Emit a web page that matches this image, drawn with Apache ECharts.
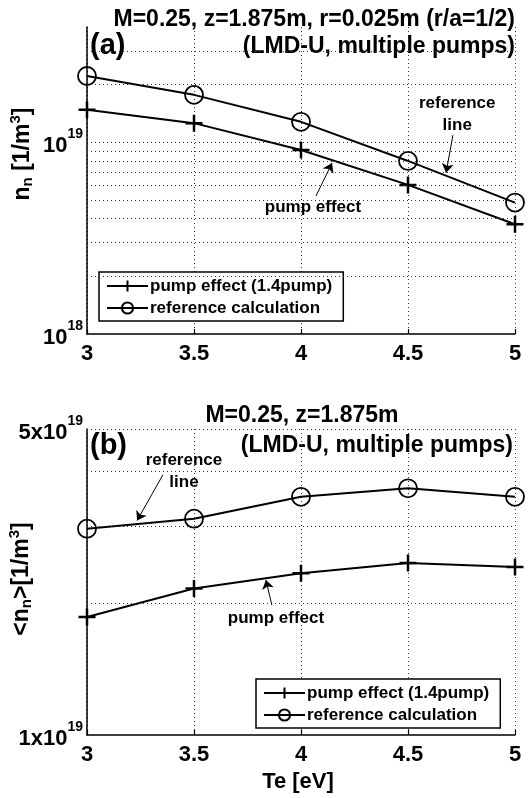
<!DOCTYPE html>
<html>
<head>
<meta charset="utf-8">
<script src="https://cdn.jsdelivr.net/npm/echarts@6/dist/echarts.min.js"></script>
<style>
html,body{margin:0;padding:0;background:#fff;}
#c{width:528px;height:798px;}
</style>
</head>
<body>
<div id="c"></div>
<script>
// ---- data ----
var teValues = [3, 3.5, 4, 4.5, 5];
var topPump = [1.48e19, 1.26e19, 9.13e18, 6.0e18, 3.74e18];
var topRef  = [2.22e19, 1.77e19, 1.28e19, 8.0e18, 4.85e18];
var botPump = [1.86e19, 2.16e19, 2.34e19, 2.47e19, 2.42e19];
var botRef  = [2.96e19, 3.12e19, 3.50e19, 3.66e19, 3.50e19];
var seriesNames = ['pump effect (1.4pump)', 'reference calculation'];
var xTicks = [3, 3.5, 4, 4.5, 5];
var topYRange = [1e18, 4e19];
var botYRange = [1e19, 5e19];
var topGridValues = [2e18, 3e18, 4e18, 5e18, 6e18, 7e18, 8e18, 9e18, 1e19, 2e19, 3e19];
var botGridValues = [2e19, 3e19, 4e19, 5e19];
var topYLabels = {'18': ['10', '18'], '19': ['10', '19']};
var botYLabels = {'1e19': ['1x10', '19'], '5e19': ['5x10', '19']};
// annotations (data coordinates)
var topRefNote = {text: 'reference\nline', at: [4.73, 1.40e19], from: [4.71, 1.09e19], to: [4.678, 6.95e18]};
var topPumpNote = {text: 'pump effect', at: [4.056, 4.61e18], from: [4.07, 5.25e18], to: [4.145, 7.8e18]};
var botRefNote = {text: 'reference\nline', at: [3.453, 4.0e19], from: [3.355, 3.93e19], to: [3.234, 3.09e19]};
var botPumpNote = {text: 'pump effect', at: [3.883, 1.85e19], from: [3.864, 1.98e19], to: [3.836, 2.26e19]};

// ---- styles ----
var FF = '"Liberation Sans", Arial, Helvetica, sans-serif';
var plusPath = 'path://M10,0L10,20M0,10L20,10';
var gridLineStyle = {color: '#333', width: 1, type: [1, 3]};

function pair(a, b) { return a.map(function (v, i) { return [v, b[i]]; }); }

function gridMarkLine(gridVals) {
  return {
    silent: true, animation: false,
    symbol: 'none',
    label: {show: false},
    data: gridVals.map(function (v) {
      return {yAxis: v, symbol: 'none', lineStyle: gridLineStyle};
    })
  };
}
function arrowMarkLine(notes) {
  return {
    silent: true, animation: false,
    symbol: ['none', 'arrow'], symbolSize: 9,
    label: {show: false},
    itemStyle: {color: '#000'},
    lineStyle: {color: '#000', width: 1, type: 'solid'},
    data: notes.map(function (n) {
      return [{coord: n.from, symbol: 'none'}, {coord: n.to, symbol: 'arrow', symbolSize: 9}];
    })
  };
}
function noteMarkPoint(notes) {
  return {
    silent: true, animation: false,
    symbol: 'circle', symbolSize: 0,
    data: notes.map(function (n) {
      return {coord: n.at, value: n.text,
        label: {show: true, position: 'inside', formatter: n.text, color: '#000',
          fontFamily: FF, fontWeight: 'bold', fontSize: 17, lineHeight: 22, align: 'center'}};
    })
  };
}

function pumpSeries(name, x, y, data, notes, gridVals) {
  return {
    name: name, type: 'line', xAxisIndex: x, yAxisIndex: y,
    data: data, symbol: plusPath, symbolSize: 17,
    showAllSymbol: true,
    lineStyle: {color: '#000', width: 2},
    itemStyle: {color: 'rgba(0,0,0,0)', borderColor: '#000', borderWidth: 2.5},
    markLine: gridMarkLine(gridVals),
    markPoint: noteMarkPoint(notes),
    z: 3
  };
}
function refSeries(name, x, y, data, notes) {
  return {
    name: name, type: 'line', xAxisIndex: x, yAxisIndex: y,
    data: data, symbol: 'circle', symbolSize: 18,
    showAllSymbol: true,
    lineStyle: {color: '#000', width: 2},
    itemStyle: {color: 'rgba(0,0,0,0)', borderColor: '#000', borderWidth: 1.8},
    markLine: arrowMarkLine(notes),
    z: 3
  };
}

function xAxis(gridIndex) {
  return {
    type: 'value', gridIndex: gridIndex, min: 3, max: 5, interval: 0.5,
    axisLine: {show: true, onZero: false, lineStyle: {color: '#000', width: 1.5}},
    axisTick: {show: true, inside: true, length: 5, lineStyle: {color: '#000', width: 1.2}},
    splitLine: {show: true, lineStyle: gridLineStyle},
    axisLabel: {color: '#000', fontFamily: FF, fontWeight: 'bold', fontSize: 22, margin: 9,
      formatter: function (v) { return xTicks.indexOf(v) >= 0 ? String(v) : ''; }}
  };
}

var richY = {
  m: {fontFamily: FF, fontWeight: 'bold', fontSize: 22, color: '#000', lineHeight: 30, verticalAlign: 'bottom'},
  s: {fontFamily: FF, fontWeight: 'bold', fontSize: 14, color: '#000', lineHeight: 30, verticalAlign: 'top'}
};
var richName = {
  b: {fontFamily: FF, fontWeight: 'bold', fontSize: 23, fill: '#000', lineHeight: 30},
  sub: {fontFamily: FF, fontWeight: 'bold', fontSize: 15, fill: '#000', lineHeight: 30, verticalAlign: 'bottom', padding: [0, 0, 3, 0]},
  sup: {fontFamily: FF, fontWeight: 'bold', fontSize: 15, fill: '#000', lineHeight: 30, verticalAlign: 'top'}
};
var legendStyle = {
  orient: 'vertical', padding: [5, 11, 4, 7], itemGap: 4, itemWidth: 41, itemHeight: 14,
  borderColor: '#000', borderWidth: 1.5, backgroundColor: '#fff',
  textStyle: {color: '#000', fontFamily: FF, fontWeight: 'bold', fontSize: 17, lineHeight: 18, padding: [0, 0, 0, -3]},
  selectedMode: false
};

var option = {
  animation: false,
  backgroundColor: '#fff',
  grid: [
    {left: 87, width: 428, top: 27, height: 307},
    {left: 87, width: 428, top: 429, height: 306}
  ],
  xAxis: [xAxis(0), xAxis(1)],
  yAxis: [
    {type: 'log', logBase: 10, gridIndex: 0, min: topYRange[0], max: topYRange[1],
      axisLine: {show: true, onZero: false, lineStyle: {color: '#000', width: 1.5}},
      axisTick: {show: false}, splitLine: {show: false}, minorTick: {show: false},
      axisLabel: {margin: 4, rich: richY, formatter: function (v) {
        var k = String(Math.round(Math.log10(v) * 1000) / 1000);
        var l = topYLabels[k];
        return l ? '{m|' + l[0] + '}{s|' + l[1] + '}' : '';
      }}},
    {type: 'log', logBase: 10, gridIndex: 1, min: botYRange[0], max: botYRange[1],
      axisLine: {show: true, onZero: false, lineStyle: {color: '#000', width: 1.5}},
      axisTick: {show: false}, splitLine: {show: false}, minorTick: {show: false},
      axisLabel: {margin: 4, showMaxLabel: true, showMinLabel: true, rich: richY, formatter: function (v) {
        var k = Number(v.toPrecision(3)).toExponential().replace('+', '');
        var l = botYLabels[k];
        return l ? '{m|' + l[0] + '}{s|' + l[1] + '}' : '';
      }}}
  ],
  legend: [
    Object.assign({data: seriesNames, left: 99, top: 272}, legendStyle),
    Object.assign({data: seriesNames, left: 256, top: 679}, legendStyle)
  ],
  series: [
    pumpSeries(seriesNames[0], 0, 0, pair(teValues, topPump), [topRefNote, topPumpNote], topGridValues),
    refSeries(seriesNames[1], 0, 0, pair(teValues, topRef), [topRefNote, topPumpNote]),
    pumpSeries(seriesNames[0], 1, 1, pair(teValues, botPump), [botRefNote, botPumpNote], botGridValues),
    refSeries(seriesNames[1], 1, 1, pair(teValues, botRef), [botRefNote, botPumpNote])
  ],
  graphic: [
    {type: 'text', x: 515, y: 20, style: {text: 'M=0.25, z=1.875m, r=0.025m (r/a=1/2)', fill: '#000',
      font: 'bold 23px ' + FF, align: 'right', verticalAlign: 'middle'}},
    {type: 'text', x: 515, y: 47, style: {text: '(LMD-U, multiple pumps)', fill: '#000',
      font: 'bold 23px ' + FF, align: 'right', verticalAlign: 'middle'}},
    {type: 'text', x: 90, y: 46, style: {text: '(a)', fill: '#000',
      font: 'bold 29px ' + FF, align: 'left', verticalAlign: 'middle'}},
    {type: 'text', x: 302, y: 416, style: {text: 'M=0.25, z=1.875m', fill: '#000',
      font: 'bold 23px ' + FF, align: 'center', verticalAlign: 'middle'}},
    {type: 'text', x: 513, y: 446, style: {text: '(LMD-U, multiple pumps)', fill: '#000',
      font: 'bold 23px ' + FF, align: 'right', verticalAlign: 'middle'}},
    {type: 'text', x: 90, y: 446, style: {text: '(b)', fill: '#000',
      font: 'bold 29px ' + FF, align: 'left', verticalAlign: 'middle'}},
    {type: 'text', x: 298, y: 782, style: {text: 'Te [eV]', fill: '#000',
      font: 'bold 22px ' + FF, align: 'center', verticalAlign: 'middle'}},
    {type: 'text', x: 23, y: 154, rotation: Math.PI / 2, style: {
      text: '{b|n}{sub|n}{b| [1/m}{sup|3}{b|]}', align: 'center', verticalAlign: 'middle', rich: richName}},
    {type: 'text', x: 22, y: 579, rotation: Math.PI / 2, style: {
      text: '{b|<n}{sub|n}{b|>[1/m}{sup|3}{b|]}', align: 'center', verticalAlign: 'middle', rich: richName}}
  ]
};

var chart = echarts.init(document.getElementById('c'), null, {renderer: 'canvas'});
chart.setOption(option);
</script>
</body>
</html>
